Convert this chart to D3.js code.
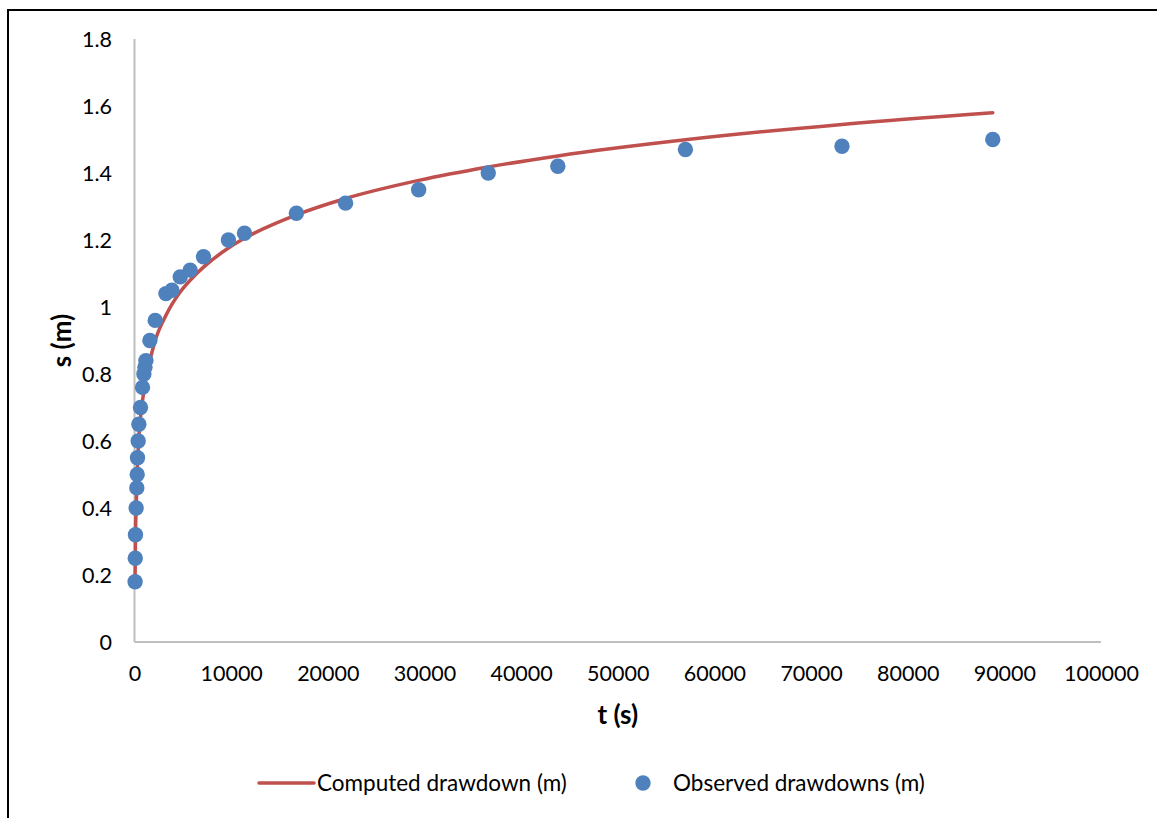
<!DOCTYPE html>
<html>
<head>
<meta charset="utf-8">
<script src="https://cdn.jsdelivr.net/npm/d3@7/dist/d3.min.js"></script>
<style>
html,body{margin:0;padding:0;background:#fff;}
svg{display:block;}
text{font-family:Lato,"Open Sans",sans-serif;fill:#000;}
</style>
</head>
<body>
<svg id="chart" width="1157" height="818"></svg>
<script>
// Observed pumping-test data (time in s, drawdown in m)
const obsTime = [60, 80, 100, 170, 240, 280, 310, 380, 450, 620, 830, 970, 1080, 1180, 1590, 2140, 3250, 3870, 4730, 5760, 7140, 9720, 11380, 16750, 21840, 29400, 36600, 43800, 57000, 73200, 88800];
const obsDrawdown = [0.18, 0.25, 0.32, 0.40, 0.46, 0.50, 0.55, 0.60, 0.65, 0.70, 0.76, 0.80, 0.82, 0.84, 0.90, 0.96, 1.04, 1.05, 1.09, 1.11, 1.15, 1.20, 1.22, 1.28, 1.31, 1.35, 1.40, 1.42, 1.47, 1.48, 1.50];
// Computed drawdown curve
const compTime = [60, 80, 100, 170, 240, 280, 310, 380, 450, 620, 830, 970, 1080, 1180, 1590, 2140, 3250, 3870, 4730, 5760, 7140, 9720, 11380, 16750, 21840, 29400, 36600, 43800, 57000, 73200, 88800];
const compDrawdown = [0.19, 0.25, 0.31, 0.40, 0.47, 0.50, 0.53, 0.57, 0.61, 0.67, 0.72, 0.75, 0.77, 0.79, 0.84, 0.90, 0.975, 1.008, 1.045, 1.08, 1.119, 1.176, 1.205, 1.275, 1.324, 1.378, 1.418, 1.451, 1.499, 1.545, 1.580];
const xTicks = [0, 10000, 20000, 30000, 40000, 50000, 60000, 70000, 80000, 90000, 100000];
const yTicks = [0, 0.2, 0.4, 0.6, 0.8, 1, 1.2, 1.4, 1.6, 1.8];
const xTitle = "t (s)";
const yTitle = "s (m)";
const legendLabels = ["Computed drawdown (m)", "Observed drawdowns (m)"];

const svg = d3.select("#chart");
const lineColor = "#C0504D", dotColor = "#4F81BD", axisColor = "#BFBFBF";

// outer frame
svg.append("rect").attr("x", 8).attr("y", 10).attr("width", 1170).attr("height", 830)
  .attr("fill", "none").attr("stroke", "#000").attr("stroke-width", 2);

const x = d3.scaleLinear().domain([0, 100000]).range([134.5, 1101]);
const y = d3.scaleLinear().domain([0, 1.8]).range([642, 39]);

// axes lines
svg.append("line").attr("x1", x(0)).attr("x2", x(0)).attr("y1", y(1.8)).attr("y2", y(0))
  .attr("stroke", axisColor).attr("stroke-width", 2);
svg.append("line").attr("x1", x(0)).attr("x2", x(100000)).attr("y1", y(0)).attr("y2", y(0))
  .attr("stroke", axisColor).attr("stroke-width", 2);

const fs = 21.5;
// x tick labels
const xAxis = d3.axisBottom(x).tickValues(xTicks).tickSize(0).tickPadding(0).tickFormat(d => String(d));
const gx = svg.append("g").attr("transform", `translate(0,${y(0)})`).call(xAxis);
gx.select(".domain").remove();
gx.selectAll("text").attr("dy", null).attr("y", 39).attr("font-size", fs)
  .style("font-family", "Lato").attr("fill", "#000");

// y tick labels
const yAxis = d3.axisLeft(y).tickValues(yTicks).tickSize(0).tickPadding(0).tickFormat(d => String(+d.toFixed(1)));
const gy = svg.append("g").attr("transform", `translate(112,0)`).call(yAxis);
gy.select(".domain").remove();
gy.selectAll("text").attr("x", 0).attr("dy", "0.36em").attr("font-size", fs)
  .style("font-family", "Lato").attr("fill", "#000");

// axis titles
svg.append("text").attr("x", (x(0) + x(100000)) / 2).attr("y", 724).attr("text-anchor", "middle")
  .attr("font-size", 26).attr("font-weight", "bold").text(xTitle);
svg.append("text").attr("transform", `translate(71,${(y(0) + y(1.8)) / 2}) rotate(-90)`)
  .attr("text-anchor", "middle").attr("font-size", 26).attr("font-weight", "bold").text(yTitle);

// computed line
const line = d3.line().x((d, i) => x(compTime[i])).y((d, i) => y(compDrawdown[i])).curve(d3.curveMonotoneX);
svg.append("path").datum(compTime).attr("d", line).attr("fill", "none")
  .attr("stroke", lineColor).attr("stroke-width", 3.5).attr("stroke-linecap", "round").attr("stroke-linejoin", "round");

// observed points
svg.append("g").selectAll("circle").data(obsTime).join("circle")
  .attr("cx", (d) => x(d)).attr("cy", (d, i) => y(obsDrawdown[i])).attr("r", 7.7).attr("fill", dotColor);

// legend
const lg = svg.append("g");
lg.append("line").attr("x1", 259).attr("x2", 314).attr("y1", 783).attr("y2", 783)
  .attr("stroke", lineColor).attr("stroke-width", 3.5).attr("stroke-linecap", "round");
lg.append("text").attr("x", 317).attr("y", 791).attr("font-size", 22.5).text(legendLabels[0]);
lg.append("circle").attr("cx", 643).attr("cy", 783).attr("r", 7.7).attr("fill", dotColor);
lg.append("text").attr("x", 673).attr("y", 791).attr("font-size", 22.5).text(legendLabels[1]);
</script>
</body>
</html>
